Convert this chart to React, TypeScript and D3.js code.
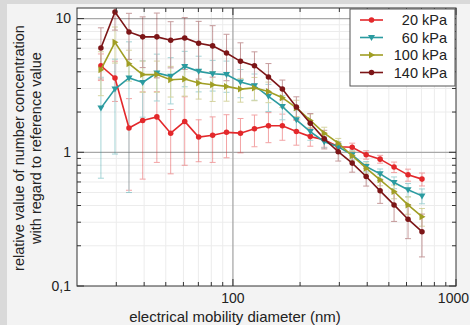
import React from "react";
import * as d3 from "d3";

// mobility diameters (nm) of the size channels
const diameters = [
  25.6, 29.6, 34.2, 39.4, 45.6, 52.6, 60.8, 70.2, 81.1, 93.6, 108.1, 124.9,
  144.3, 166.6, 192.5, 222.3, 256.7, 296.5, 342.5, 395.6, 456.9, 527.7, 609.5,
  704.0,
];

const seriesNames = ["20 kPa", "60 kPa", "100 kPa", "140 kPa"];

const kpa20 = [
  4.44, 3.6, 1.52, 1.73, 1.84, 1.39, 1.7, 1.3, 1.34, 1.41, 1.39, 1.5, 1.58,
  1.58, 1.43, 1.31, 1.24, 1.1, 1.09, 0.958, 0.889, 0.775, 0.678, 0.63,
];
const kpa20Err = [
  1.0, 1.2, 1.0, 1.1, 1.0, 0.7, 0.9, 0.45, 0.5, 0.5, 0.4, 0.4, 0.4, 0.35, 0.3,
  0.2, 0.15, 0.1, 0.08, 0.07, 0.06, 0.07, 0.07, 0.07,
];
const kpa60 = [
  2.14, 2.97, 3.6, 3.33, 3.92, 3.7, 4.39, 4.03, 3.87, 3.81, 3.36, 3.15, 2.62,
  2.2, 1.75, 1.43, 1.2, 1.1, 0.958, 0.783, 0.69, 0.594, 0.524, 0.472,
];
const kpa60Err = [
  1.5, 2.0, 3.1, 1.5, 1.5, 1.4, 1.3, 1.2, 1.0, 1.0, 0.8, 0.7, 0.6, 0.45, 0.3,
  0.2, 0.12, 0.1, 0.08, 0.07, 0.06, 0.06, 0.06, 0.06,
];
const kpa100 = [
  4.15, 6.65, 4.6, 3.81, 3.81, 3.49, 3.53, 3.3, 3.2, 3.11, 2.97, 3.03, 2.85,
  2.56, 2.15, 1.73, 1.39, 1.17, 0.942, 0.761, 0.622, 0.509, 0.404, 0.33,
];
const kpa100Err = [
  1.5, 2.0, 1.2, 1.0, 1.0, 0.9, 0.9, 0.8, 0.8, 0.7, 0.6, 0.6, 0.5, 0.4, 0.3,
  0.2, 0.15, 0.1, 0.08, 0.07, 0.06, 0.06, 0.06, 0.05,
];
const kpa140 = [
  6.03, 11.2, 7.95, 7.3, 7.3, 6.88, 7.17, 6.53, 6.25, 5.53, 4.79, 4.44, 3.66,
  2.97, 2.18, 1.65, 1.26, 1.01, 0.83, 0.659, 0.515, 0.404, 0.316, 0.255,
];
const kpa140Err = [
  2.5, 3.0, 3.0, 3.0, 3.7, 2.6, 3.0, 3.0, 2.6, 2.1, 1.8, 1.2, 0.95, 0.5, 0.42,
  0.3, 0.2, 0.15, 0.12, 0.1, 0.1, 0.1, 0.09, 0.09,
];

const xMinorTicks = [30, 40, 50, 60, 70, 80, 90, 200, 300, 400, 500, 600, 700, 800, 900];
const xMajorTicks = [100, 1000];
const xTickLabels = ["100", "1000"];
const yMinorTicks = [0.2, 0.3, 0.4, 0.5, 0.6, 0.7, 0.8, 0.9, 2, 3, 4, 5, 6, 7, 8, 9];
const yMajorTicks = [0.1, 1, 10];
const yTickLabels = ["0,1", "1", "10"];

const colors = ["#e3282b", "#2b9ba0", "#a09e24", "#7c1517"];
const markerKinds = ["circle", "down", "right", "circle"];

const font = "'Liberation Sans', Arial, Helvetica, sans-serif";

function markerPath(kind: string) {
  if (kind === "down") return "M-3.5,-2.5L3.5,-2.5L0,3.5Z";
  if (kind === "right") return "M-2.5,-3.5L3.5,0L-2.5,3.5Z";
  return d3.symbol(d3.symbolCircle, 24)() as string;
}

export default function App() {
  const left = 77, right = 456, top = 8, bottom = 286;
  const x = d3.scaleLog().domain([20, 1000]).range([left, right]);
  const y = d3.scaleLog().domain([0.1, 12]).range([bottom, top]);

  const series = [
    { name: seriesNames[0], values: kpa20, err: kpa20Err },
    { name: seriesNames[1], values: kpa60, err: kpa60Err },
    { name: seriesNames[2], values: kpa100, err: kpa100Err },
    { name: seriesNames[3], values: kpa140, err: kpa140Err },
  ];

  const line = d3
    .line<number>()
    .x((_, i) => x(diameters[i]))
    .y((d) => y(d));

  const legendY = [20, 37.5, 55, 72.5];

  return (
    <div style={{ position: "absolute", left: 0, top: 0 }}>
      <svg width={470} height={325} style={{ display: "block", fontFamily: font }}>
        <defs>
          <clipPath id="plotclip">
            <rect x={left} y={top} width={right - left} height={bottom - top} />
          </clipPath>
        </defs>
        <rect x={0} y={0} width={470} height={325} fill="#f3f3f3" />
        <rect x={0} y={0} width={470} height={4} fill="#d9d9d9" />
        <rect x={0} y={0} width={7} height={325} fill="#d9d9d9" />
        <rect x={left} y={top} width={right - left} height={bottom - top} fill="#fff" />

        {/* grid */}
        {xMinorTicks.map((t) => (
          <line key={"gx" + t} x1={x(t)} x2={x(t)} y1={top} y2={bottom} stroke="#ececec" />
        ))}
        {yMinorTicks.map((t) => (
          <line key={"gy" + t} x1={left} x2={right} y1={y(t)} y2={y(t)} stroke="#ececec" />
        ))}
        <line x1={x(100)} x2={x(100)} y1={top} y2={bottom} stroke="#a8a8a8" strokeWidth={1.3} />
        {[1, 10].map((t) => (
          <line key={"gmy" + t} x1={left} x2={right} y1={y(t)} y2={y(t)} stroke="#a8a8a8" strokeWidth={1.3} />
        ))}

        {/* error bars */}
        <g clipPath="url(#plotclip)" opacity={0.42}>
          {series.map((s, si) =>
            s.values.map((v, i) => {
              const cx = x(diameters[i]);
              const lo = y(Math.max(v - s.err[i], 0.05));
              const hi = y(v + s.err[i]);
              return (
                <g key={si + "-" + i} stroke={colors[si]} strokeWidth={1}>
                  <line x1={cx} x2={cx} y1={lo} y2={hi} />
                  <line x1={cx - 3} x2={cx + 3} y1={lo} y2={lo} />
                  <line x1={cx - 3} x2={cx + 3} y1={hi} y2={hi} />
                </g>
              );
            })
          )}
        </g>

        {/* lines and markers */}
        <g clipPath="url(#plotclip)">
          {series.map((s, si) => (
            <g key={s.name}>
              <path d={line(s.values) as string} fill="none" stroke={colors[si]} strokeWidth={1.6} />
              {s.values.map((v, i) => (
                <path
                  key={i}
                  d={markerPath(markerKinds[si])}
                  transform={`translate(${x(diameters[i])},${y(v)})`}
                  fill={colors[si]}
                />
              ))}
            </g>
          ))}
        </g>

        {/* frame and ticks */}
        <rect x={left} y={top} width={right - left} height={bottom - top} fill="none" stroke="#333" strokeWidth={1} />
        {xMinorTicks.map((t) => (
          <g key={"tx" + t} stroke="#333">
            <line x1={x(t)} x2={x(t)} y1={bottom} y2={bottom - 4} />
            <line x1={x(t)} x2={x(t)} y1={top} y2={top + 4} />
          </g>
        ))}
        {yMinorTicks.map((t) => (
          <g key={"ty" + t} stroke="#333">
            <line x1={left} x2={left + 4} y1={y(t)} y2={y(t)} />
            <line x1={right} x2={right - 4} y1={y(t)} y2={y(t)} />
          </g>
        ))}
        {xMajorTicks.map((t) => (
          <g key={"tmx" + t} stroke="#333">
            <line x1={x(t)} x2={x(t)} y1={bottom} y2={bottom - 7} />
            <line x1={x(t)} x2={x(t)} y1={top} y2={top + 7} />
          </g>
        ))}
        {yMajorTicks.map((t) => (
          <g key={"tmy" + t} stroke="#333">
            <line x1={left} x2={left + 7} y1={y(t)} y2={y(t)} />
            <line x1={right} x2={right - 7} y1={y(t)} y2={y(t)} />
          </g>
        ))}

        {/* tick labels */}
        {yMajorTicks.map((t, i) => (
          <text key={"ly" + t} x={71} y={y(t)} dy="0.35em" textAnchor="end" fontSize={14} fill="#222">
            {yTickLabels[i]}
          </text>
        ))}
        {xMajorTicks.map((t, i) => (
          <text
            key={"lx" + t}
            x={t === 1000 ? 469 : x(t)}
            y={298}
            dy="0.35em"
            textAnchor={t === 1000 ? "end" : "middle"}
            fontSize={14}
            fill="#222"
          >
            {xTickLabels[i]}
          </text>
        ))}

        {/* axis titles */}
        <text x={235} y={317} dy="0.35em" textAnchor="middle" fontSize={15} fill="#222">
          electrical mobility diameter (nm)
        </text>
        <text transform="translate(19,148) rotate(-90)" dy="0.35em" textAnchor="middle" fontSize={14.5} fill="#222">
          relative value of number concentration
        </text>
        <text transform="translate(36,148) rotate(-90)" dy="0.35em" textAnchor="middle" fontSize={14.5} fill="#222">
          with regard to reference value
        </text>

        {/* legend */}
        <rect x={350} y={9} width={105} height={77} fill="#fff" stroke="#555" />
        {series.map((s, si) => (
          <g key={"lg" + s.name}>
            <line x1={360} x2={383} y1={legendY[si]} y2={legendY[si]} stroke={colors[si]} strokeWidth={1.6} />
            <path d={markerPath(markerKinds[si])} transform={`translate(371.5,${legendY[si]})`} fill={colors[si]} />
            <text x={447} y={legendY[si]} dy="0.35em" textAnchor="end" fontSize={14.5} fill="#222">
              {s.name}
            </text>
          </g>
        ))}
      </svg>
    </div>
  );
}
